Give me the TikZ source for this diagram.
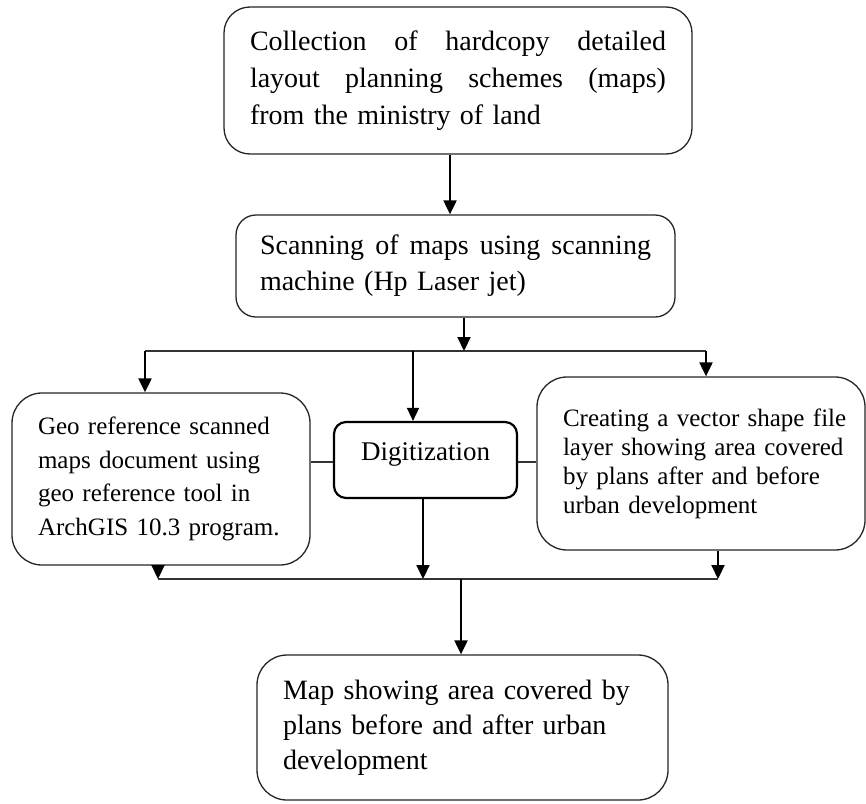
\documentclass[tikz,border=0pt]{standalone}
\usepackage{fontspec}
\setmainfont{Liberation Serif}
\usetikzlibrary{arrows.meta}
\tikzset{
  box/.style={draw=black!85, line width=1.3pt, rounded corners=26pt, inner sep=0pt, align=left},
  digbox/.style={draw=black, line width=2.2pt, rounded corners=12pt, inner xsep=0pt, inner ysep=19pt, text height=19pt, text depth=19pt, align=center},
  arr/.style={line width=2.1pt, -{Triangle[width=13pt,length=14pt]}},
  thinarr/.style={line width=1.5pt, -{Triangle[width=12pt,length=13pt]}},
  link/.style={line width=1.6pt, draw=black!80},
}
\begin{document}
\begin{tikzpicture}[x=1pt,y=-1pt]
\useasboundingbox (0,0) rectangle (866,803);
\fill[white] (0,0) rectangle (866,803);

\node[box, minimum width=468pt, minimum height=147pt, text width=416pt,
  font=\fontsize{28}{37}\selectfont] (top) at (458,80.5)
  {\makebox[416pt][l]{Collection\hfill of\hfill hardcopy\hfill detailed}\\
   \makebox[416pt][l]{layout\hfill planning\hfill schemes\hfill (maps)}\\
   from the ministry of land};

\node[box, rounded corners=20pt, minimum width=439pt, minimum height=102pt, text width=391pt,
  font=\fontsize{28}{36}\selectfont] (scan) at (455.5,266)
  {\makebox[391pt][l]{Scanning\hfill of\hfill maps\hfill using\hfill scanning}\\
   machine (Hp Laser jet)};

\node[box, rounded corners=30pt, minimum width=298pt, minimum height=172pt, text width=246pt,
  font=\fontsize{25}{33.5}\selectfont] (geo) at (161,479)
  {Geo reference scanned\\
   maps document using\\
   geo reference tool in\\
   ArchGIS 10.3 program.};

\node[digbox, minimum width=183pt, font=\fontsize{27}{30}\selectfont] (dig) at (425.5,460) {Digitization};

\node[box, rounded corners=30pt, minimum width=328pt, minimum height=173pt, text width=276pt,
  font=\fontsize{25}{29}\selectfont] (right) at (701,463.5)
  {\mbox{Creating a vector shape file}\\
   \mbox{layer showing area covered}\\
   \mbox{by plans after and before}\\
   \mbox{urban development}\\[6pt]};

\node[box, rounded corners=30pt, minimum width=411pt, minimum height=145pt, text width=359pt,
  font=\fontsize{28}{35}\selectfont] (final) at (462.5,727.5)
  {Map showing area covered by\\
   plans before and after urban\\
   development};

% top to scan
\draw[arr] (top.south -| 450,0) -- (scan.north -| 450,0);

% split
\coordinate (j1) at (464,351);
\coordinate (jl) at (145,351);
\coordinate (jm) at (413,351);
\coordinate (jr) at (706,351);
\draw[arr] (scan.south -| j1) -- (j1);
\draw[link] (jl) -- (jr);
\draw[arr] (jl) -- (jl |- geo.north);
\draw[arr] (jr) -- (jr |- right.north);
\draw[thinarr] (jm) -- (jm |- dig.north);

% side links
\draw[link, line width=1.4pt] (geo.east |- 0,462) -- (dig.west |- 0,462);
\draw[link, line width=1.4pt] (dig.east |- 0,462) -- (right.west |- 0,462);

% merge
\coordinate (bl) at (158,579);
\coordinate (bm) at (423,579);
\coordinate (br) at (718,579);
\coordinate (bc) at (461,579);
\draw[arr] (geo.south -| bl) -- (bl);
\draw[arr] (dig.south -| bm) -- (bm);
\draw[arr] (right.south -| br) -- (br);
\draw[link] (bl) -- (br);
\draw[arr] (bc) -- (final.north -| bc);
\end{tikzpicture}
\end{document}
